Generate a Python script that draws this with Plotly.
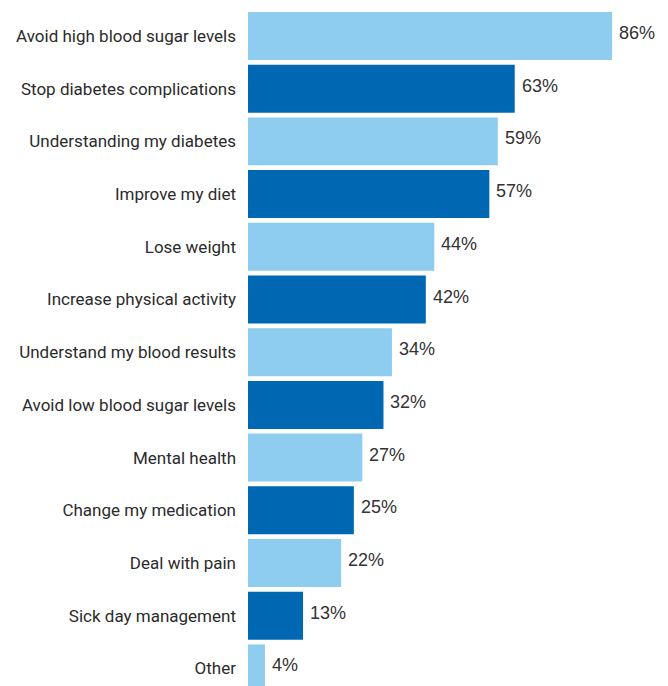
import plotly.graph_objects as go

# Survey topics and share of respondents (%)
topics = [
    "Avoid high blood sugar levels",
    "Stop diabetes complications",
    "Understanding my diabetes",
    "Improve my diet",
    "Lose weight",
    "Increase physical activity",
    "Understand my blood results",
    "Avoid low blood sugar levels",
    "Mental health",
    "Change my medication",
    "Deal with pain",
    "Sick day management",
    "Other",
]
shares = [86, 63, 59, 57, 44, 42, 34, 32, 27, 25, 22, 13, 4]

LIGHT = "#8FCDF0"
DARK = "#0068B3"
bar_colors = [LIGHT if i % 2 == 0 else DARK for i in range(len(topics))]

fig = go.Figure(
    go.Bar(
        x=shares,
        y=topics,
        orientation="h",
        marker=dict(color=bar_colors, line=dict(width=0)),
        hoverinfo="skip",
    )
)

# Value labels just right of each bar end
for topic, v in zip(topics, shares):
    fig.add_annotation(
        x=v,
        y=topic,
        text=f"{v}%",
        showarrow=False,
        xanchor="left",
        yanchor="middle",
        xshift=5,
        yshift=3,
        font=dict(family="Liberation Sans, Arial, sans-serif", size=18, color="#333333"),
    )

fig.update_layout(
    width=668,
    height=686,
    margin=dict(l=248, r=0, t=0, b=0),
    paper_bgcolor="white",
    plot_bgcolor="white",
    bargap=0.09,
    showlegend=False,
    font=dict(family="Roboto, sans-serif", size=17, color="#333333"),
)
fig.update_xaxes(range=[0, 99.2], visible=False, fixedrange=True)
fig.update_yaxes(
    range=[12.334, -0.683],
    showgrid=False,
    zeroline=False,
    showline=False,
    ticks="",
    ticklabelstandoff=11,
    automargin=False,
    tickfont=dict(family="Roboto, sans-serif", size=17, color="#2b2b2b"),
)

fig.write_html("out.html")
